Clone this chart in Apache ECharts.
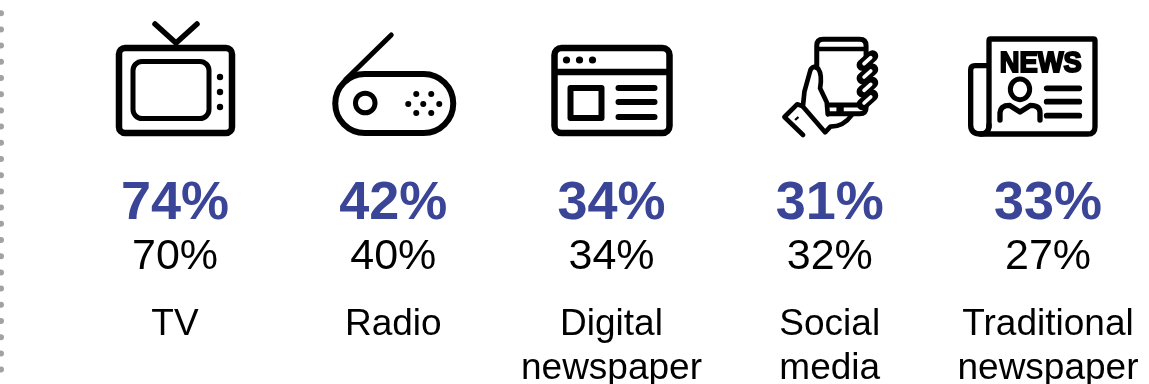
<!DOCTYPE html>
<html>
<head>
<meta charset="utf-8">
<style>html,body{margin:0;padding:0;background:#fff}#chart{width:1149px;height:384px}</style>
<script src="https://cdn.jsdelivr.net/npm/echarts@6/dist/echarts.min.js"></script>
</head>
<body>
<div id="chart"></div>
<script>
// Media usage by channel, two survey readings per channel
const categories = ['TV', 'Radio', 'Digital\nnewspaper', 'Social\nmedia', 'Traditional\nnewspaper'];
const highlightShare = [74, 42, 34, 31, 33];
const comparisonShare = [70, 40, 34, 32, 27];
const iconNames = ['tv', 'radio', 'browser', 'phone', 'news'];

const FONT = '"Liberation Sans", Arial, sans-serif';
const BLUE = '#3b4598';
const INK = '#000';

const stroke = (lineWidth, extra) => Object.assign(
  { fill: 'none', stroke: INK, lineWidth, lineCap: 'round', lineJoin: 'round' }, extra);
const path = (d, style) => ({ type: 'path', shape: { pathData: d }, style });
const dot = (cx, cy, r) => ({ type: 'circle', shape: { cx, cy, r }, style: { fill: INK } });
const rect = (x, y, width, height, r, lineWidth) => ({
  type: 'rect', shape: { x, y, width, height, r }, style: stroke(lineWidth)
});

// Pictograms, each in its own local drawing space
const icons = {
  tv: { offsetX: -175, offsetY: 0, scale: 1, children: [
    rect(119, 48, 113, 85, 6, 6.5),
    rect(133, 61.5, 76, 57, 9, 5),
    path('M155 24L176 43L197 24', stroke(5.5)),
    dot(220, 77, 3.2), dot(220, 92, 3.2), dot(220, 107, 3.2)
  ] },
  radio: { offsetX: -393, offsetY: 0, scale: 1, children: [
    rect(335, 74, 118, 59, 29.5, 6),
    path('M391 35L345 80', stroke(5)),
    { type: 'circle', shape: { cx: 365, cy: 103, r: 9.8 }, style: stroke(5) },
    dot(416, 94, 3), dot(431, 94, 3),
    dot(408, 104, 3), dot(423, 104, 3), dot(439, 104, 3),
    dot(416, 113, 3), dot(431, 113, 3)
  ] },
  browser: { offsetX: -612, offsetY: 0, scale: 1, children: [
    rect(555, 48, 115, 85, 7, 6.5),
    path('M555 72H670', stroke(6.5, { lineCap: 'butt' })),
    dot(567, 60, 3.6), dot(580, 60, 3.6), dot(593, 60, 3.6),
    rect(571, 88, 31, 30, 0, 6),
    path('M619 88H655M619 102H655M619 117H655', stroke(6))
  ] },
  phone: { offsetX: -60, offsetY: 25, scale: 1 / 3, children: [
    path('M141 128V62Q141 43 160 43H270Q289 43 289 62V100', stroke(15)),
    path('M141 72H289', stroke(14, { lineCap: 'butt' })),
    path('M170 240H282M172 266H270Q289 266 289 248V230', stroke(15, { lineCap: 'butt' })),
    { type: 'rect', shape: { x: 200, y: 242, width: 22, height: 22 }, style: { fill: INK } },
    path('M100 240L104 200L122 135Q132 118 146 132Q158 150 151 190L171 232L174 268', stroke(14)),
    path('M98 243L166 322L182 305Q222 305 246 270', stroke(14)),
    path('M98 243L82 238L44 276L100 330', stroke(14)),
    path('M76 285L86 276', stroke(7, { lineCap: 'butt' })),
    path('M278 120L308 93M278 160L308 133M278 200L308 173M278 238L308 211', stroke(35)),
    path('M283 116L303 98M283 156L303 138M283 196L303 178M283 234L303 216', stroke(11, { stroke: '#fff' }))
  ] },
  news: { offsetX: -88, offsetY: 30, scale: 1 / 3, children: [
    path('M87 290V32Q87 27 92 27H400Q405 27 405 32V290Q405 312 383 312H62Q32 312 32 285V120Q32 107 45 107H87',
      stroke(16)),
    path('M87 285Q87 312 62 312', stroke(16)),
    { type: 'text', x: 242, y: 100, scaleX: 0.92, style: {
      text: 'NEWS', font: 'bold 89px ' + FONT, fill: INK, stroke: INK, lineWidth: 6,
      align: 'center', verticalAlign: 'middle' } },
    { type: 'ellipse', shape: { cx: 180, cy: 178, rx: 29, ry: 31 }, style: stroke(15) },
    path('M120 270V248Q122 226 148 226L180 246L212 226Q240 226 240 248V270', stroke(16)),
    path('M260 175H358M260 215H358M260 257H358', stroke(17))
  ] }
};

function iconGroup(name, cx) {
  const icon = icons[name];
  return {
    type: 'group', x: cx + icon.offsetX, y: icon.offsetY,
    scaleX: icon.scale, scaleY: icon.scale, children: icon.children
  };
}

function renderColumn(params, api) {
  const i = api.value(0);
  const cx = api.coord([i, 0])[0];
  const text = (content, y, font, fill, lineHeight) => ({
    type: 'text', x: cx, y,
    style: { text: content, font, fill, align: 'center', verticalAlign: 'top', lineHeight }
  });
  return {
    type: 'group',
    children: [
      iconGroup(iconNames[i], cx),
      text(api.value(1) + '%', 176, 'bold 54px ' + FONT, BLUE, 56),
      text(api.value(2) + '%', 235, '43px ' + FONT, INK, 44),
      text(categories[i], 303, '37px ' + FONT, INK, 44)
    ]
  };
}

const chart = echarts.init(document.getElementById('chart'), null, { renderer: 'canvas' });
chart.setOption({
  animation: false,
  backgroundColor: '#fff',
  grid: { left: 175, right: 101, top: 0, bottom: 0 },
  xAxis: { type: 'category', data: categories, boundaryGap: false, show: false },
  yAxis: { type: 'value', min: 0, max: 100, show: false },
  // Dotted rule down the left edge
  graphic: [{
    type: 'line',
    shape: { x1: 1, y1: -3, x2: 1, y2: 384 },
    style: { stroke: '#a3a1a3', lineWidth: 6, lineCap: 'round', lineDash: [0, 16.2] }
  }],
  series: [{
    type: 'custom',
    clip: false,
    renderItem: renderColumn,
    encode: { x: 0, y: 1 },
    data: categories.map((_, i) => [i, highlightShare[i], comparisonShare[i]])
  }]
});
</script>
</body>
</html>
